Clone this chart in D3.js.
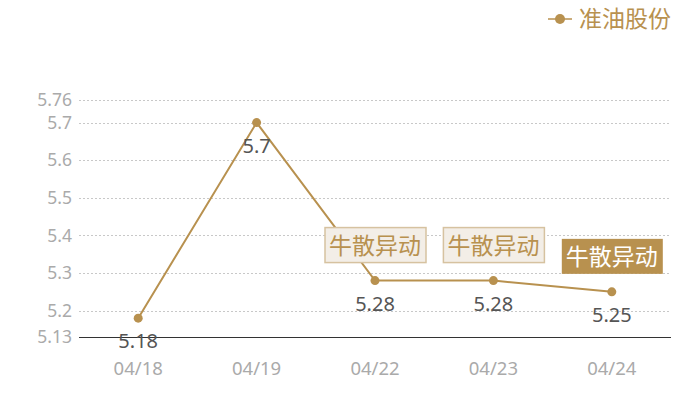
<!DOCTYPE html>
<html>
<head>
<meta charset="utf-8">
<script src="https://cdn.jsdelivr.net/npm/d3@7"></script>
<style>
  body { margin: 0; background: #fff; }
  text { font-family: "Noto Sans CJK SC", "Noto Sans", sans-serif; }
</style>
</head>
<body>
<svg id="chart" width="700" height="400"></svg>
<script>
const dates = ["04/18", "04/19", "04/22", "04/23", "04/24"];
const prices = [5.18, 5.7, 5.28, 5.28, 5.25];
const yTicks = [5.13, 5.2, 5.3, 5.4, 5.5, 5.6, 5.7, 5.76];
const tags = [null, null, "light", "light", "dark"]; // 牛散异动 markers
const seriesName = "准油股份";
const tagText = "牛散异动";

const gold = "#b8914f";
const margin = { top: 100, right: 29, bottom: 63, left: 79 };
const width = 700, height = 400;
const innerW = width - margin.left - margin.right;
const innerH = height - margin.top - margin.bottom;

const svg = d3.select("#chart");
const g = svg.append("g").attr("transform", `translate(${margin.left},${margin.top})`);

const x = d3.scaleBand().domain(dates).range([0, innerW]);
const y = d3.scaleLinear().domain([5.13, 5.76]).range([innerH, 0]);

// grid lines
g.selectAll(".grid").data(yTicks.filter(t => t !== 5.13))
  .enter().append("line")
  .attr("x1", 0).attr("x2", innerW)
  .attr("y1", d => Math.round(y(d)) + 0.5).attr("y2", d => Math.round(y(d)) + 0.5)
  .attr("stroke", "#c8c8c8").attr("stroke-dasharray", "2,2");

// y axis labels
const yAxis = d3.axisLeft(y).tickValues(yTicks).tickFormat(d => String(d)).tickSize(0).tickPadding(7);
const yG = g.append("g").call(yAxis);
yG.select(".domain").remove();
yG.selectAll("text").attr("fill", "#aaa").style("font-size", "17.5px").style("font-family", "'Noto Sans', sans-serif");

// x axis
const xAxis = d3.axisBottom(x).tickSize(0).tickPadding(25);
const xG = g.append("g").attr("transform", `translate(0,${innerH})`).call(xAxis);
xG.select(".domain").remove();
xG.selectAll("text").attr("fill", "#aaa").style("font-size", "18.5px").style("font-family", "'Noto Sans', sans-serif");

// baseline
g.append("line").attr("x1", 0).attr("x2", innerW)
  .attr("y1", Math.round(y(5.13)) + 0.5).attr("y2", Math.round(y(5.13)) + 0.5)
  .attr("stroke", "#333").attr("stroke-width", 1);

const cx = d => x(d) + x.bandwidth() / 2;

// line
const line = d3.line().x((d, i) => cx(dates[i])).y(d => y(d));
g.append("path").datum(prices)
  .attr("d", line).attr("fill", "none")
  .attr("stroke", gold).attr("stroke-width", 2);

g.selectAll(".pt").data(prices).enter().append("circle")
  .attr("cx", (d, i) => cx(dates[i])).attr("cy", d => y(d))
  .attr("r", 4.5).attr("fill", gold);

// value labels
g.selectAll(".val").data(prices).enter().append("text")
  .attr("x", (d, i) => cx(dates[i])).attr("y", d => y(d) + 30)
  .attr("text-anchor", "middle").attr("fill", "#555")
  .style("font-size", "20px").style("font-family", "'Noto Sans', sans-serif")
  .text(d => String(d));

// tag boxes
const tagData = prices.map((p, i) => ({ p, i, kind: tags[i] })).filter(d => d.kind);
const tg = g.selectAll(".tag").data(tagData).enter().append("g")
  .attr("transform", d => `translate(${cx(dates[d.i])},${y(d.p) - 18})`);
tg.append("rect")
  .attr("x", -50).attr("y", -35).attr("width", 101).attr("height", 35)
  .attr("fill", d => d.kind === "dark" ? gold : "#f3eee7")
  .attr("stroke", d => d.kind === "dark" ? "none" : "#d6c2a0")
  .attr("stroke-width", 1.5);
tg.append("text")
  .attr("x", 0).attr("y", -9).attr("text-anchor", "middle")
  .attr("fill", d => d.kind === "dark" ? "#fff" : gold)
  .style("font-size", "23px")
  .text(tagText);

// legend
const lg = svg.append("g").attr("transform", "translate(548,19)");
lg.append("line").attr("x1", 0).attr("x2", 24).attr("y1", 0).attr("y2", 0)
  .attr("stroke", gold).attr("stroke-width", 1.5);
lg.append("circle").attr("cx", 12).attr("cy", 0).attr("r", 5).attr("fill", gold);
lg.append("text").attr("x", 31).attr("y", 8).attr("fill", gold)
  .style("font-size", "23px").text(seriesName);
</script>
</body>
</html>
